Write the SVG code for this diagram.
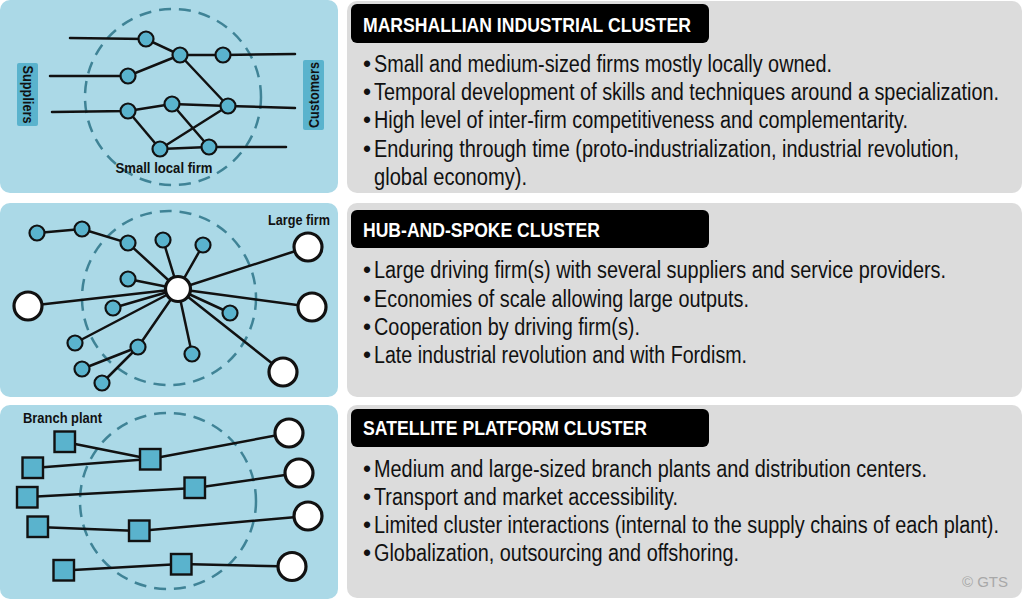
<svg xmlns="http://www.w3.org/2000/svg" width="1024" height="604" viewBox="0 0 1024 604">
  <style>
    .bg { fill: #ffffff; }
    .pane-blue { fill: #abd9e7; }
    .pane-grey { fill: #dcdcdc; }
    .zone { fill: none; stroke: #3f8396; stroke-width: 2.5; stroke-dasharray: 12 8; }
    .link { stroke: #111111; stroke-width: 2.5; fill: none; stroke-linecap: round; }
    .firm { fill: #5ab3cd; stroke: #111111; stroke-width: 2.2; }
    .big { fill: #ffffff; stroke: #111111; stroke-width: 3.2; }
    .plant { fill: #5ab3cd; stroke: #111111; stroke-width: 2.4; }
    .tag { fill: #5ab3cd; }
    .lbl { font-family: "Liberation Sans", Arial, sans-serif; font-weight: bold; font-size: 15px; fill: #111111; }
    .head-box { fill: #000000; }
    .head { font-family: "Liberation Sans", Arial, sans-serif; font-weight: bold; font-size: 20px; fill: #ffffff; }
    .body { font-family: "Liberation Sans", Arial, sans-serif; font-size: 23px; fill: #111111; }
    .credit { font-family: "Liberation Sans", Arial, sans-serif; font-size: 15px; fill: #a8a8a8; }
  </style>

  <rect class="bg" x="0" y="0" width="1024" height="604"/>

  <!-- ===== Row 1: Marshallian cluster ===== -->
  <rect class="pane-blue" x="0" y="0" width="338" height="193" rx="10"/>
  <circle class="zone" cx="173" cy="97" r="88"/>

  <g id="tag-suppliers">
    <rect class="tag" x="17" y="63" width="21" height="63" rx="2"/>
    <text class="lbl" transform="translate(22.5,65.5) rotate(90)" textLength="58" lengthAdjust="spacingAndGlyphs">Suppliers</text>
  </g>
  <g id="tag-customers">
    <rect class="tag" x="303" y="60" width="21" height="70" rx="2"/>
    <text class="lbl" transform="translate(319,128) rotate(-90)" textLength="66" lengthAdjust="spacingAndGlyphs">Customers</text>
  </g>

  <g id="links-marshall">
    <polyline class="link" points="70,38 146,39 180,55 223,55 295,54"/>
    <polyline class="link" points="50,76 128,76 180,55"/>
    <line class="link" x1="180" y1="55" x2="228" y2="106"/>
    <polyline class="link" points="52,112 128,111 172,104 228,106 295,108"/>
    <line class="link" x1="128" y1="111" x2="160" y2="149"/>
    <line class="link" x1="172" y1="104" x2="209" y2="147"/>
    <line class="link" x1="160" y1="149" x2="228" y2="106"/>
    <polyline class="link" points="160,149 209,147 286,147"/>
  </g>

  <g id="m-firm-a"><circle class="firm" cx="146" cy="39" r="7.5"/></g>
  <g id="m-firm-b"><circle class="firm" cx="180" cy="55" r="7.5"/></g>
  <g id="m-firm-c"><circle class="firm" cx="223" cy="55" r="7.5"/></g>
  <g id="m-firm-d"><circle class="firm" cx="128" cy="76" r="7.5"/></g>
  <g id="m-firm-e"><circle class="firm" cx="128" cy="111" r="7.5"/></g>
  <g id="m-firm-f"><circle class="firm" cx="172" cy="104" r="7.5"/></g>
  <g id="m-firm-g"><circle class="firm" cx="228" cy="106" r="7.5"/></g>
  <g id="m-firm-h"><circle class="firm" cx="160" cy="149" r="7.5"/></g>
  <g id="m-firm-i"><circle class="firm" cx="209" cy="147" r="7.5"/></g>

  <text class="lbl" x="164" y="172.5" text-anchor="middle" font-size="16" textLength="97" lengthAdjust="spacingAndGlyphs">Small local firm</text>

  <g id="text-marshall">
    <rect class="pane-grey" x="347" y="1" width="675" height="192" rx="10"/>
    <rect class="head-box" x="351" y="4" width="358" height="39" rx="6"/>
    <text class="head" x="363" y="32" textLength="328" lengthAdjust="spacingAndGlyphs">MARSHALLIAN INDUSTRIAL CLUSTER</text>
    <text class="body" x="363" y="71.5">•</text>
    <text class="body" x="374" y="71.5" textLength="458" lengthAdjust="spacingAndGlyphs">Small and medium-sized firms mostly locally owned.</text>
    <text class="body" x="363" y="100">•</text>
    <text class="body" x="374" y="100" textLength="625" lengthAdjust="spacingAndGlyphs">Temporal development of skills and techniques around a specialization.</text>
    <text class="body" x="363" y="128.3">•</text>
    <text class="body" x="374" y="128.3" textLength="534" lengthAdjust="spacingAndGlyphs">High level of inter-firm competitiveness and complementarity.</text>
    <text class="body" x="363" y="156.6">•</text>
    <text class="body" x="374" y="156.6" textLength="585" lengthAdjust="spacingAndGlyphs">Enduring through time (proto-industrialization, industrial revolution,</text>
    <text class="body" x="374" y="185" textLength="153" lengthAdjust="spacingAndGlyphs">global economy).</text>
  </g>

  <!-- ===== Row 2: Hub-and-spoke cluster ===== -->
  <rect class="pane-blue" x="0" y="203" width="338" height="194" rx="10"/>
  <circle class="zone" cx="169" cy="298" r="87"/>

  <g id="links-hub">
    <polyline class="link" points="37,233 82,229 128,243 178,289"/>
    <line class="link" x1="163" y1="240" x2="178" y2="289"/>
    <line class="link" x1="203" y1="245" x2="178" y2="289"/>
    <line class="link" x1="128" y1="279" x2="178" y2="289"/>
    <line class="link" x1="113" y1="308" x2="178" y2="289"/>
    <line class="link" x1="230" y1="313" x2="178" y2="289"/>
    <line class="link" x1="75" y1="343" x2="178" y2="289"/>
    <line class="link" x1="138" y1="347" x2="178" y2="289"/>
    <line class="link" x1="192" y1="354" x2="178" y2="289"/>
    <line class="link" x1="138" y1="347" x2="82" y2="369"/>
    <line class="link" x1="138" y1="347" x2="102" y2="383"/>
    <line class="link" x1="28" y1="306" x2="178" y2="289"/>
    <line class="link" x1="308" y1="247" x2="178" y2="289"/>
    <line class="link" x1="312" y1="307" x2="178" y2="289"/>
    <line class="link" x1="283" y1="372" x2="178" y2="289"/>
  </g>

  <g id="h-sup-1"><circle class="firm" cx="37" cy="233" r="7.5"/></g>
  <g id="h-sup-2"><circle class="firm" cx="82" cy="229" r="7.5"/></g>
  <g id="h-sup-3"><circle class="firm" cx="128" cy="243" r="7.5"/></g>
  <g id="h-sup-4"><circle class="firm" cx="163" cy="240" r="7.5"/></g>
  <g id="h-sup-5"><circle class="firm" cx="203" cy="245" r="7.5"/></g>
  <g id="h-sup-6"><circle class="firm" cx="128" cy="279" r="7.5"/></g>
  <g id="h-sup-7"><circle class="firm" cx="113" cy="308" r="7.5"/></g>
  <g id="h-sup-8"><circle class="firm" cx="230" cy="313" r="7.5"/></g>
  <g id="h-sup-9"><circle class="firm" cx="75" cy="343" r="7.5"/></g>
  <g id="h-sup-10"><circle class="firm" cx="138" cy="347" r="7.5"/></g>
  <g id="h-sup-11"><circle class="firm" cx="192" cy="354" r="7.5"/></g>
  <g id="h-sup-12"><circle class="firm" cx="82" cy="369" r="7.5"/></g>
  <g id="h-sup-13"><circle class="firm" cx="102" cy="383" r="7.5"/></g>
  <g id="h-hub"><circle class="big" cx="178" cy="289" r="12.5"/></g>
  <g id="h-large-w"><circle class="big" cx="28" cy="306" r="14"/></g>
  <g id="h-large-ne"><circle class="big" cx="308" cy="247" r="14"/></g>
  <g id="h-large-e"><circle class="big" cx="312" cy="307" r="14"/></g>
  <g id="h-large-se"><circle class="big" cx="283" cy="372" r="14"/></g>

  <text class="lbl" x="268" y="225" textLength="62" lengthAdjust="spacingAndGlyphs">Large firm</text>

  <g id="text-hub">
    <rect class="pane-grey" x="347" y="203" width="675" height="194" rx="10"/>
    <rect class="head-box" x="351" y="210" width="358" height="38" rx="6"/>
    <text class="head" x="363" y="237" textLength="237" lengthAdjust="spacingAndGlyphs">HUB-AND-SPOKE CLUSTER</text>
    <text class="body" x="363" y="278">•</text>
    <text class="body" x="374" y="278" textLength="572" lengthAdjust="spacingAndGlyphs">Large driving firm(s) with several suppliers and service providers.</text>
    <text class="body" x="363" y="306.5">•</text>
    <text class="body" x="374" y="306.5" textLength="375" lengthAdjust="spacingAndGlyphs">Economies of scale allowing large outputs.</text>
    <text class="body" x="363" y="335">•</text>
    <text class="body" x="374" y="335" textLength="266" lengthAdjust="spacingAndGlyphs">Cooperation by driving firm(s).</text>
    <text class="body" x="363" y="363">•</text>
    <text class="body" x="374" y="363" textLength="373" lengthAdjust="spacingAndGlyphs">Late industrial revolution and with Fordism.</text>
  </g>

  <!-- ===== Row 3: Satellite platform cluster ===== -->
  <rect class="pane-blue" x="0" y="405" width="338" height="194" rx="10"/>
  <circle class="zone" cx="168" cy="501" r="88"/>

  <g id="links-satellite">
    <line class="link" x1="65" y1="442" x2="150" y2="459"/>
    <line class="link" x1="33" y1="468" x2="150" y2="459"/>
    <line class="link" x1="150" y1="459" x2="289" y2="433"/>
    <polyline class="link" points="27.5,497 195,488 299,473"/>
    <polyline class="link" points="37.5,527 139,531 308,516"/>
    <polyline class="link" points="64,570.5 181,564 292,566.5"/>
  </g>

  <g id="s-plant-1"><rect class="plant" x="54.5" y="431.5" width="20.5" height="20.5"/></g>
  <g id="s-plant-2"><rect class="plant" x="22.5" y="457.5" width="20.5" height="20.5"/></g>
  <g id="s-plant-3"><rect class="plant" x="17" y="487" width="20.5" height="20.5"/></g>
  <g id="s-plant-4"><rect class="plant" x="27.5" y="516.5" width="20.5" height="20.5"/></g>
  <g id="s-plant-5"><rect class="plant" x="53.5" y="560" width="20.5" height="20.5"/></g>
  <g id="s-plant-6"><rect class="plant" x="140" y="449" width="20.5" height="20.5"/></g>
  <g id="s-plant-7"><rect class="plant" x="184.5" y="477.5" width="20.5" height="20.5"/></g>
  <g id="s-plant-8"><rect class="plant" x="129" y="520.5" width="20.5" height="20.5"/></g>
  <g id="s-plant-9"><rect class="plant" x="171" y="554" width="20.5" height="20.5"/></g>
  <g id="s-market-1"><circle class="big" cx="289" cy="433" r="14"/></g>
  <g id="s-market-2"><circle class="big" cx="299" cy="473" r="14"/></g>
  <g id="s-market-3"><circle class="big" cx="308" cy="516" r="14"/></g>
  <g id="s-market-4"><circle class="big" cx="292" cy="566.5" r="14"/></g>

  <text class="lbl" x="23" y="423" textLength="79" lengthAdjust="spacingAndGlyphs">Branch plant</text>

  <g id="text-satellite">
    <rect class="pane-grey" x="347" y="405" width="675" height="193" rx="10"/>
    <rect class="head-box" x="351" y="409" width="358" height="38" rx="6"/>
    <text class="head" x="363" y="435" textLength="284" lengthAdjust="spacingAndGlyphs">SATELLITE PLATFORM CLUSTER</text>
    <text class="body" x="363" y="477">•</text>
    <text class="body" x="374" y="477" textLength="553" lengthAdjust="spacingAndGlyphs">Medium and large-sized branch plants and distribution centers.</text>
    <text class="body" x="363" y="504.5">•</text>
    <text class="body" x="374" y="504.5" textLength="304" lengthAdjust="spacingAndGlyphs">Transport and market accessibility.</text>
    <text class="body" x="363" y="533">•</text>
    <text class="body" x="374" y="533" textLength="625" lengthAdjust="spacingAndGlyphs">Limited cluster interactions (internal to the supply chains of each plant).</text>
    <text class="body" x="363" y="560.5">•</text>
    <text class="body" x="374" y="560.5" textLength="365" lengthAdjust="spacingAndGlyphs">Globalization, outsourcing and offshoring.</text>
    <text class="credit" x="1008" y="587" text-anchor="end">© GTS</text>
  </g>
</svg>
